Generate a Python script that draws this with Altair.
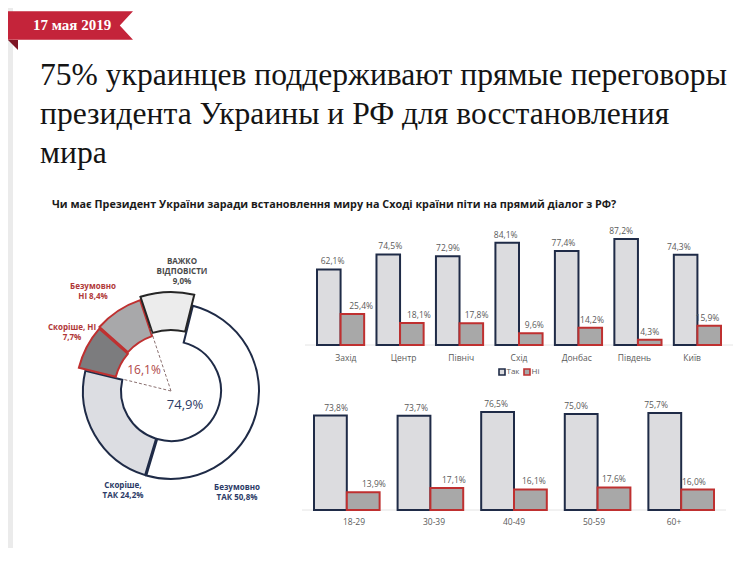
import math
import altair as alt
import pandas as pd

# ------------------------------------------------------------------ data
date_text = "17 мая 2019"
title_lines = [
    "75% украинцев поддерживают прямые переговоры",
    "президента Украины и РФ для восстановления",
    "мира",
]
question = "Чи має Президент України заради встановлення миру на Сході країни піти на прямий діалог з РФ?"

donut_names = ["Безумовно ТАК", "Скоріше, ТАК", "Скоріше, НІ", "Безумовно НІ", "ВАЖКО ВІДПОВІСТИ"]
donut_values = [50.8, 24.2, 7.7, 8.4, 9.0]
donut_label_tpl = ["Безумовно\nТАК {}", "Скоріше,\nТАК {}", "Скоріше, НІ\n{}", "Безумовно\nНІ {}", "ВАЖКО\nВІДПОВІСТИ\n{}"]
yes_total = 74.9
no_total = 16.1

regions = ["Захід", "Центр", "Північ", "Схід", "Донбас", "Південь", "Київ"]
region_yes = [62.1, 74.5, 72.9, 84.1, 77.4, 87.2, 74.3]
region_no = [25.4, 18.1, 17.8, 9.6, 14.2, 4.3, 15.9]

ages = ["18-29", "30-39", "40-49", "50-59", "60+"]
age_yes = [73.8, 73.7, 76.5, 75.0, 75.7]
age_no = [13.9, 17.1, 16.1, 17.6, 16.0]

series = ["Так", "Ні"]

# ------------------------------------------------------------------ styles / layout
W, H = 731, 540
NAVY = "#1f2b47"
RED = "#bf3030"
GRAY_TXT = "#5a5a5a"
SANS = "Open Sans"
SERIF = "Liberation Serif"

donut_fill = ["#ffffff", "#dcdde2", "#7c7c7e", "#a8a8aa", "#ececec"]
donut_stroke = [NAVY, NAVY, RED, RED, "#262626"]
donut_label_color = ["#2b3a66", "#2b3a66", "#b03838", "#b03838", "#4a4a4a"]
explode = [0, 0, 7, 8, 11]
label_offsets = [(66, 97), (-48, 95), (-99, -63), (-78, -104), (11, -129)]
R_OUT, R_IN = 88, 50
START_DEG = 14.0
CX, CY = 163, 383

series_fill = {"Так": "#dcdcdf", "Ні": "#a8a8a8"}
series_stroke = {"Так": NAVY, "Ні": RED}
label_nudge = {"Так": -1.5, "Ні": 3.5}


def fmt(v):
    return f"{v:.1f}".replace(".", ",") + "%"


def one(text):
    return pd.DataFrame({"t": [text]})


def PX(field):
    return alt.X(field, scale=None, axis=None)


def PY(field):
    return alt.Y(field, scale=None, axis=None)


layers = []

# ------------------------------------------------------------------ header
layers.append(alt.Chart(one("")).mark_rect(color="#ebebeb").encode(
    x=alt.value(0), x2=alt.value(5), y=alt.value(0), y2=alt.value(H)
))
ribbon_path = "M -1 -0.2276 L 1 -0.2276 L 0.7886 0 L 1 0.2276 L -1 0.2276 Z"
layers.append(alt.Chart(one("")).mark_point(
    shape=ribbon_path, filled=True, size=125 * 125, color="#c4243a", opacity=1, strokeWidth=0
).encode(x=alt.value(62.5), y=alt.value(17.5)))
layers.append(alt.Chart(one("")).mark_point(
    shape="M -1 -1 L 1 -1 L 1 1 Z", filled=True, size=100, color="#7d1524", opacity=1, strokeWidth=0
).encode(x=alt.value(5), y=alt.value(37)))
layers.append(alt.Chart(one(date_text)).mark_text(
    font=SERIF, fontSize=15, fontWeight="bold", color="white", align="left", baseline="middle"
).encode(x=alt.value(25), y=alt.value(17), text="t:N"))

title_df = pd.DataFrame({"t": title_lines, "y": [77 + 39 * i for i in range(len(title_lines))]})
layers.append(alt.Chart(title_df).mark_text(
    font=SERIF, fontSize=31.6, color="#141414", align="left", baseline="alphabetic"
).encode(x=alt.value(32), y=PY("y:Q"), text="t:N"))

layers.append(alt.Chart(one(question)).mark_text(
    font=SANS, fontSize=10.8, fontWeight="bold", color="#1a1a1a", align="left", baseline="middle"
).encode(x=alt.value(44), y=alt.value(197), text="t:N"))

# ------------------------------------------------------------------ donut
total = sum(donut_values)
rows = []
acc = START_DEG
for i, (n, v) in enumerate(zip(donut_names, donut_values)):
    a0 = acc
    a1 = acc + v / total * 360.0
    acc = a1
    ox, oy = label_offsets[i]
    rows.append(dict(
        name=n, value=v,
        a0=math.radians(a0), a1=math.radians(a1),
        r1=R_OUT + explode[i], r0=R_IN + explode[i],
        fill=donut_fill[i], stroke=donut_stroke[i], lc=donut_label_color[i],
        label=donut_label_tpl[i].format(fmt(v)),
        lx=CX + ox, ly=CY + oy,
    ))
ddf = pd.DataFrame(rows)

layers.append(alt.Chart(ddf).mark_arc(strokeWidth=2, padAngle=0.012).encode(
    theta=alt.Theta("a0:Q", scale=None, stack=False),
    theta2="a1:Q",
    radius=alt.Radius("r1:Q", scale=None),
    radius2="r0:Q",
    fill=alt.Fill("fill:N", scale=None, legend=None),
    stroke=alt.Stroke("stroke:N", scale=None, legend=None),
    x=alt.value(CX), y=alt.value(CY),
))
layers.append(alt.Chart(ddf).mark_text(
    font=SANS, fontSize=8, fontWeight="bold", lineBreak="\n", lineHeight=10, align="center", baseline="middle"
).encode(
    x=PX("lx:Q"), y=PY("ly:Q"), text="label:N",
    color=alt.Color("lc:N", scale=None, legend=None),
))

a_start = rows[2]["a0"]
a_end = rows[3]["a1"]
dash_df = pd.DataFrame({
    "x0": [CX, CX], "y0": [CY, CY],
    "x1": [CX + 50 * math.sin(a_start), CX + 66 * math.sin(a_end)],
    "y1": [CY - 50 * math.cos(a_start), CY - 66 * math.cos(a_end)],
})
layers.append(alt.Chart(dash_df).mark_rule(color="#8a7070", strokeWidth=1, strokeDash=[3, 2]).encode(
    x=PX("x0:Q"), y=PY("y0:Q"), x2="x1:Q", y2="y1:Q",
))
tot_df = pd.DataFrame({
    "t": [fmt(yes_total), fmt(no_total)],
    "x": [CX + 14, CX - 27], "y": [CY + 14, CY - 21],
    "c": ["#2d3c66", "#b04848"], "s": [13, 12],
})
layers.append(alt.Chart(tot_df).mark_text(font=SANS, align="center", baseline="middle").encode(
    x=PX("x:Q"), y=PY("y:Q"), text="t:N",
    color=alt.Color("c:N", scale=None, legend=None), size=alt.Size("s:Q", scale=None, legend=None),
))


# ------------------------------------------------------------------ bars
def bar_layers(cats, yes, no, x_range, pad_inner, base_y, px_per, cat_y, legend=None):
    n = len(cats)
    step = (x_range[1] - x_range[0]) / (n - pad_inner)
    band = step * (1 - pad_inner)
    half = band / 2
    xenc = alt.X("cat:N", sort=cats, axis=None,
                 scale=alt.Scale(domain=cats, range=x_range, paddingInner=pad_inner, paddingOuter=0))
    yenc = alt.Y("value:Q", axis=None,
                 scale=alt.Scale(domain=[0, 100], range=[base_y, base_y - 100 * px_per]))
    out = [
        alt.Chart(pd.DataFrame({"value": [0]})).mark_rule(color="#e4e4e4", strokeWidth=1).encode(
            y=yenc, x=alt.value(x_range[0] - 12), x2=alt.value(x_range[1] + 12)
        )
    ]
    for j, (s, vals) in enumerate(zip(series, (yes, no))):
        df = pd.DataFrame({"cat": cats, "value": vals})
        off = (j - 0.5) * half
        out.append(alt.Chart(df).mark_bar(
            width=half, xOffset=off, strokeWidth=2, fill=series_fill[s], stroke=series_stroke[s]
        ).encode(x=xenc, y=yenc))
    for j, (s, vals) in enumerate(zip(series, (yes, no))):
        df = pd.DataFrame({"cat": cats, "value": vals, "label": [fmt(v) for v in vals]})
        off = (j - 0.5) * half + label_nudge[s]
        out.append(alt.Chart(df).mark_text(
            xOffset=off, font=SANS, fontSize=8.5, color=GRAY_TXT, baseline="bottom", dy=-3
        ).encode(x=xenc, y=yenc, text="label:N"))
    out.append(alt.Chart(pd.DataFrame({"cat": cats})).mark_text(
        font=SANS, fontSize=8.5, color=GRAY_TXT, baseline="middle"
    ).encode(x=xenc, y=alt.value(cat_y), text="cat:N"))
    if legend is not None:
        lx0, ly = legend
        for i, s in enumerate(series):
            sub = pd.DataFrame({"series": [s]})
            lx = lx0 + 25 * i
            out.append(alt.Chart(sub).mark_point(
                shape="square", size=36, filled=True, strokeWidth=1.6, opacity=1,
                fill=series_fill[s], stroke=series_stroke[s]
            ).encode(x=alt.value(lx), y=alt.value(ly)))
            out.append(alt.Chart(sub).mark_text(
                font=SANS, fontSize=8, color=GRAY_TXT, align="left", baseline="middle"
            ).encode(x=alt.value(lx + 4.5), y=alt.value(ly), text="series:N"))
    return out


layers += bar_layers(regions, region_yes, region_no, [309, 713], 0.207, 337, 1.216, 350, legend=(494, 364))
layers += bar_layers(ages, age_yes, age_no, [306, 706], 0.215, 502, 1.28, 514)

chart = alt.layer(*layers).resolve_scale(x="independent", y="independent").properties(
    width=W, height=H, padding=0, background="white",
    autosize=alt.AutoSizeParams(type="fit", contains="padding"),
).configure_view(stroke=None)

chart.save("out.html", embed_options={"renderer": "svg", "actions": False})
